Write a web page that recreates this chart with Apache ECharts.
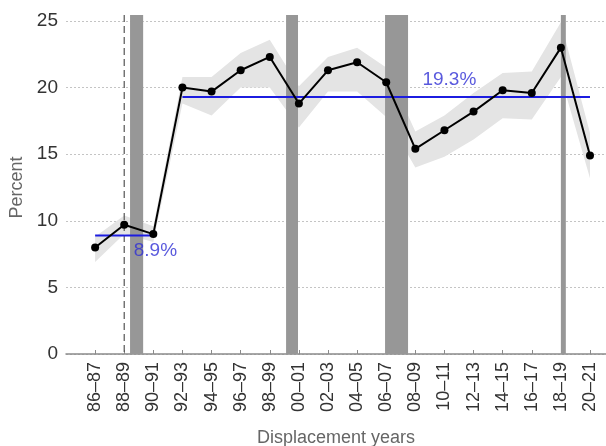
<!DOCTYPE html>
<html>
<head>
<meta charset="utf-8">
<script src="https://cdn.jsdelivr.net/npm/echarts@6/dist/echarts.min.js"></script>
<style>
  html, body { margin: 0; padding: 0; background: #fff; }
  #chart { width: 606px; height: 446px; }
</style>
</head>
<body>
<div id="chart"></div>
<script>
// Displacement survey periods
const categories = ['86–87', '88–89', '90–91', '92–93', '94–95', '96–97', '98–99', '00–01', '02–03',
  '04–05', '06–07', '08–09', '10–11', '12–13', '14–15', '16–17', '18–19', '20–21'];

// Share of displaced workers (percent) and its confidence band
const percent  = [8.0, 9.7, 9.0, 20.0, 19.7, 21.3, 22.3, 18.8, 21.3, 21.9, 20.4, 15.4, 16.8, 18.2, 19.8, 19.6, 23.0, 14.9];
const bandLow  = [6.9, 9.0, 8.4, 18.8, 17.9, 20.0, 20.0, 17.0, 19.7, 19.7, 17.8, 14.0, 14.8, 16.1, 17.7, 17.6, 20.8, 13.2];
const bandHigh = [8.8, 10.4, 9.6, 20.8, 20.8, 22.6, 23.6, 20.1, 22.3, 23.0, 21.5, 16.7, 17.9, 19.6, 21.1, 21.2, 24.9, 16.6];

// Period averages: value, first and last category index
const periodMeans = [8.9, 19.3];
const periodFirst = [0, 3];
const periodLast  = [2, 17];

// Recessions, in category-index units along the x axis
const recessions = [[1.2, 1.65], [6.56, 6.97], [9.96, 10.75], [16.0, 16.17]];

// Survey redesign break (category index)
const surveyBreak = 1;

const yTicks = [0, 5, 10, 15, 20, 25];

const FONT = "'Liberation Sans', Arial, sans-serif";
const chart = echarts.init(document.getElementById('chart'), null, { renderer: 'canvas' });

const yMin = yTicks[0];
const yMax = yTicks[yTicks.length - 1];
const OVERHANG = 6; // shading extends a little above the top gridline

const option = {
  animation: false,
  grid: { left: 66, right: 0, top: 21, bottom: 92, containLabel: false, outerBoundsMode: 'none' },
  xAxis: {
    type: 'value',
    min: -1,
    max: 17.55,
    interval: 1,
    name: 'Displacement years',
    nameLocation: 'middle',
    nameGap: 75,
    nameTextStyle: { color: '#666', fontSize: 18, fontFamily: FONT },
    axisLine: { show: true, onZero: false, lineStyle: { color: '#8a8a8a', width: 1.5 } },
    axisTick: { show: true, inside: true, length: 4, lineStyle: { color: '#8a8a8a' } },
    axisLabel: {
      rotate: 90,
      margin: 8,
      color: '#333',
      fontSize: 18,
      fontFamily: FONT,
      showMinLabel: false,
      showMaxLabel: false,
      formatter: v => (Number.isInteger(v) && categories[v] !== undefined) ? categories[v] : ''
    },
    splitLine: { show: false }
  },
  yAxis: {
    type: 'value',
    min: yMin,
    max: yMax,
    interval: yTicks[1] - yTicks[0],
    name: 'Percent',
    nameLocation: 'middle',
    nameGap: 40,
    nameTextStyle: { color: '#666', fontSize: 18, fontFamily: FONT },
    axisLine: { show: false },
    axisTick: { show: false },
    axisLabel: { color: '#333', fontSize: 19, fontFamily: FONT, margin: 8 },
    splitLine: { show: true, lineStyle: { color: '#c4c4c4', type: [2, 2], width: 1 } }
  },
  series: [
    {
      // confidence band
      type: 'custom',
      z: 1,
      data: [0],
      renderItem: (params, api) => {
        const upper = bandHigh.map((v, i) => api.coord([i, v]));
        const lower = bandLow.map((v, i) => api.coord([i, v])).reverse();
        return {
          type: 'polygon',
          shape: { points: upper.concat(lower) },
          style: { fill: '#e4e4e4' }
        };
      }
    },
    {
      // recession shading
      type: 'custom',
      z: 2,
      clip: false,
      data: recessions,
      encode: { x: [0, 1] },
      renderItem: (params, api) => {
        const a = api.coord([api.value(0), yMax]);
        const b = api.coord([api.value(1), yMin]);
        return {
          type: 'rect',
          shape: { x: a[0], y: a[1] - OVERHANG, width: b[0] - a[0], height: b[1] - a[1] + OVERHANG },
          style: { fill: '#979797' }
        };
      }
    },
    {
      // survey break marker
      type: 'custom',
      z: 2,
      clip: false,
      data: [surveyBreak],
      renderItem: (params, api) => {
        const a = api.coord([api.value(0), yMax]);
        const b = api.coord([api.value(0), yMin]);
        return {
          type: 'line',
          shape: { x1: a[0], y1: a[1] - OVERHANG, x2: b[0], y2: b[1] },
          style: { stroke: '#555', lineWidth: 1.2, lineDash: [7, 4] }
        };
      }
    },
    ...periodMeans.map((m, k) => ({
      type: 'line',
      z: 3,
      symbol: 'none',
      silent: true,
      lineStyle: { color: '#1c1ce0', width: 2 },
      data: [[periodFirst[k], m], [periodLast[k], m]]
    })),
    {
      // period average labels
      type: 'scatter',
      z: 4,
      symbolSize: 0,
      silent: true,
      label: {
        show: true,
        color: '#2f2fd4',
        fontSize: 19,
        fontFamily: FONT,
        formatter: p => p.data.text
      },
      data: [
        { value: [2.07, periodMeans[0]], text: periodMeans[0].toFixed(1) + '%', label: { position: 'bottom', distance: 6 } },
        { value: [12.17, periodMeans[1]], text: periodMeans[1].toFixed(1) + '%', label: { position: 'top', distance: 8 } }
      ]
    },
    {
      type: 'line',
      z: 5,
      symbol: 'circle',
      symbolSize: 8,
      itemStyle: { color: '#000' },
      lineStyle: { color: '#000', width: 2 },
      data: percent.map((v, i) => [i, v])
    }
  ]
};

chart.setOption(option);
</script>
</body>
</html>
